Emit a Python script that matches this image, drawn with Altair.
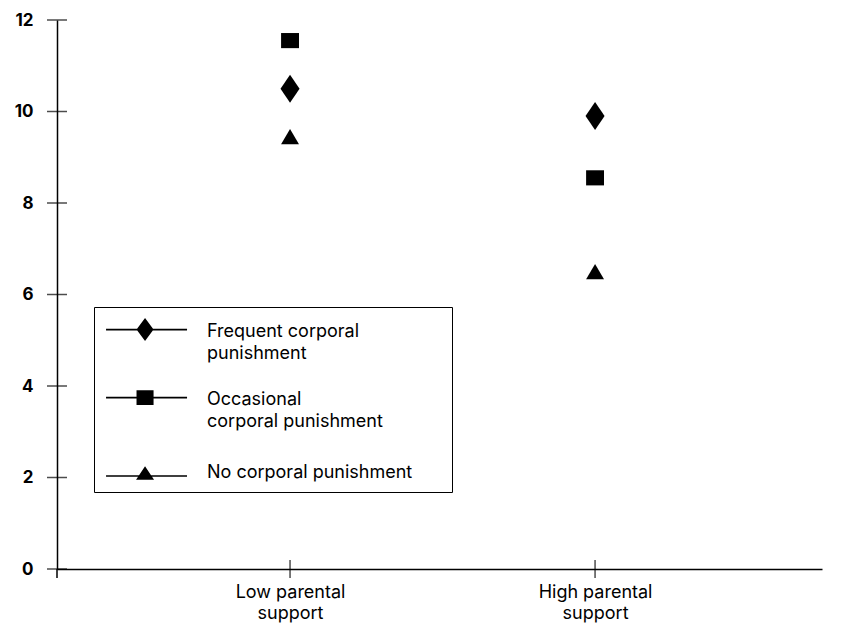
import altair as alt
import pandas as pd

# ---- data ----
support_levels = ["Low parental support", "High parental support"]
support_label_lines = [["Low parental", "support"], ["High parental", "support"]]
support_positions = [1, 2]

groups = ["Frequent corporal punishment", "Occasional corporal punishment", "No corporal punishment"]
group_label_lines = [["Frequent corporal", "punishment"], ["Occasional", "corporal punishment"], ["No corporal punishment"]]

frequent_values = [10.5, 9.9]
occasional_values = [11.55, 8.55]
no_values = [9.45, 6.5]

y_tick_values = [0, 2, 4, 6, 8, 10, 12]

# ---- build table ----
rows = []
for g, vals in zip(groups, [frequent_values, occasional_values, no_values]):
    for lvl, pos, v in zip(support_levels, support_positions, vals):
        rows.append({"group": g, "support": lvl, "pos": pos, "value": v})
df = pd.DataFrame(rows)
ticks_df = pd.DataFrame({"tick": y_tick_values})
xticks_df = pd.DataFrame({"pos": support_positions})

FONT = "Inter"
FS = 18
LH = 21.8
PLOT_H = 549

# marker shapes for data (unit = 14 px at size 784)
data_shapes = [
    "M0,-1L0.68,0L0,1L-0.68,0Z",
    "M-0.64,-0.54L0.64,-0.54L0.64,0.54L-0.64,0.54Z",
    "M0,-0.55L0.64,0.55L-0.64,0.55Z",
]

# legend shapes: line + marker (unit = 12 px at size 576)
def rect(x0, x1, y0, y1):
    return f"M{x0:.3f},{y0:.3f}L{x1:.3f},{y0:.3f}L{x1:.3f},{y1:.3f}L{x0:.3f},{y1:.3f}Z"

def seg(x0, x1, dy, h=0.065):
    return rect(x0, x1, dy - h, dy + h)

mx = 2.42   # marker centre
x_start, x_end = -0.83, 5.92
sh = -0.2
dw, dh = 0.71, 0.96
sw, shh = 0.71, 0.62
tw, th = 0.75, 0.56
legend_shapes = [
    seg(x_start, x_end, sh)
    + f"M{mx:.3f},{sh - dh:.3f}L{mx + dw:.3f},{sh:.3f}L{mx:.3f},{sh + dh:.3f}L{mx - dw:.3f},{sh:.3f}Z",
    seg(x_start, x_end, sh)
    + rect(mx - sw, mx + sw, sh - shh, sh + shh),
    seg(x_start, x_end, 0.25)
    + f"M{mx:.3f},{-th:.3f}L{mx + tw:.3f},{th:.3f}L{mx - tw:.3f},{th:.3f}Z"
    + f"M{mx:.3f},-1.35Z",
]

x_label_expr = " : ".join(
    f"datum.value == {p} ? {lines!r}" for p, lines in zip(support_positions, support_label_lines)
) + " : ''"
legend_label_expr = " : ".join(
    f"datum.label == {g!r} ? {lines!r}" for g, lines in zip(groups, group_label_lines)
) + " : datum.label"

x_enc = alt.X(
    "pos:Q",
    scale=alt.Scale(domain=[0.236, 2.744], nice=False, zero=False),
    axis=alt.Axis(
        values=support_positions, labelExpr=x_label_expr, title=None, grid=False,
        ticks=False, domainColor="black", domainWidth=1.5, labelColor="black",
        labelFont=FONT, labelFontSize=FS, labelPadding=14, labelLineHeight=LH,
        labelBaseline="top",
    ),
)
y_enc = alt.Y(
    "value:Q",
    scale=alt.Scale(domain=[0, 12], nice=False),
    axis=alt.Axis(
        values=y_tick_values, title=None, grid=False, ticks=False,
        domainColor="black", domainWidth=1.5, labelColor="black",
        labelFont=FONT, labelFontSize=17, labelFontWeight="bold", labelPadding=24,
    ),
)

points = alt.Chart(df).mark_point(filled=True, color="black", opacity=1, size=784).encode(
    x=x_enc,
    y=y_enc,
    shape=alt.Shape("group:N", scale=alt.Scale(domain=groups, range=data_shapes), legend=None),
)

# invisible spacer title widens the legend box to the reference width
legend_layer = alt.Chart(df).transform_filter("false").mark_point(
    filled=True, color="black", opacity=1, size=576
).encode(
    x=alt.X("pos:Q"),
    y=alt.Y("value:Q"),
    shape=alt.Shape(
        "group:N",
        scale=alt.Scale(domain=groups, range=legend_shapes),
        legend=alt.Legend(
            title="M" * 135, titleFontSize=3, titlePadding=0, titleOpacity=0, titleLimit=2000,
            orient="none", legendX=37, legendY=287,
            strokeColor="black", fillColor="white", padding=10,
            symbolSize=576, symbolFillColor="black", symbolStrokeWidth=0, symbolOpacity=1,
            labelExpr=legend_label_expr, labelFont=FONT, labelFontSize=FS,
            labelColor="black", labelOffset=79, labelLimit=400, rowPadding=25,
        ),
    ),
)

y_ticks = alt.Chart(ticks_df).mark_tick(color="black", thickness=1.5, size=20).encode(
    y=alt.Y("tick:Q"), x=alt.value(0)
)
x_ticks = alt.Chart(xticks_df).mark_tick(color="black", thickness=1.5, size=18).encode(
    x=alt.X("pos:Q"), y=alt.value(PLOT_H)
)
# short extension of the y axis line below zero, as in the reference
y_axis_tail = alt.Chart(ticks_df).transform_filter("datum.tick == 0").mark_rule(
    color="black", strokeWidth=1.5
).encode(
    y=alt.Y("tick:Q"), y2=alt.value(PLOT_H + 9), x=alt.value(0)
)

chart = (
    alt.layer(y_ticks, x_ticks, y_axis_tail, points, legend_layer)
    .resolve_scale(shape="independent")
    .properties(
        width=765, height=PLOT_H,
        autosize=alt.AutoSizeParams(type="none"),
        padding={"left": 49, "top": 12, "right": 22, "bottom": 58},
    )
    .configure(
        background="white",
        style={"guide-label": {"lineHeight": LH}},
        view=alt.ViewConfig(strokeWidth=0),
    )
)

chart.save("out.html", embed_options={"renderer": "svg", "actions": False})
